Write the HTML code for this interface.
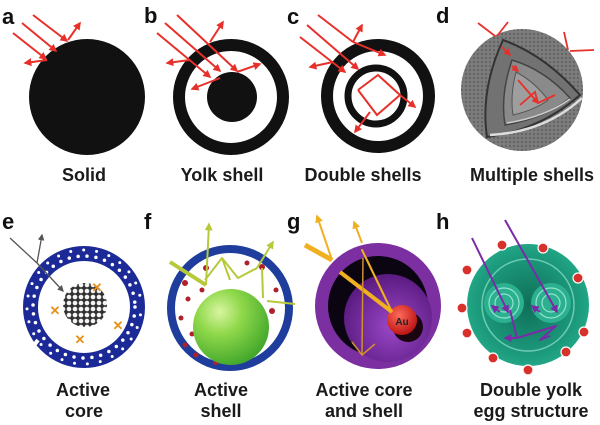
<!DOCTYPE html>
<html><head><meta charset="utf-8"><style>
html,body{margin:0;padding:0;background:#fff;}
svg{display:block;}
.lbl{font-family:"Liberation Sans",sans-serif;font-weight:bold;font-size:22px;fill:#111;}
.cap{font-family:"Liberation Sans",sans-serif;font-weight:bold;font-size:18px;fill:#1a1a1a;text-anchor:middle;}
</style></head><body>
<svg width="600" height="425" viewBox="0 0 600 425" xmlns="http://www.w3.org/2000/svg">
<defs>
<marker id="ar" viewBox="0 0 10 10" refX="8" refY="5" markerWidth="4" markerHeight="4" orient="auto"><path d="M0,0 L10,5 L0,10 z" fill="#e8302a"/></marker>
<marker id="ag" viewBox="0 0 10 10" refX="8" refY="5" markerWidth="5" markerHeight="5" orient="auto"><path d="M0,0 L10,5 L0,10 z" fill="#555"/></marker>
<marker id="ay" viewBox="0 0 10 10" refX="8" refY="5" markerWidth="4" markerHeight="4" orient="auto"><path d="M0,0 L10,5 L0,10 z" fill="#b7c93a"/></marker>
<marker id="ao" viewBox="0 0 10 10" refX="8" refY="5" markerWidth="4" markerHeight="4" orient="auto"><path d="M0,0 L10,5 L0,10 z" fill="#f0b020"/></marker>
<marker id="ap" viewBox="0 0 10 10" refX="8" refY="5" markerWidth="4" markerHeight="4" orient="auto"><path d="M0,0 L10,5 L0,10 z" fill="#7b2aa8"/></marker>
<pattern id="tex" width="4" height="4" patternUnits="userSpaceOnUse"><rect width="4" height="4" fill="#7c7c7c"/><circle cx="2" cy="2" r="1.1" fill="#626262"/></pattern>
<pattern id="cl" width="6" height="6" patternUnits="userSpaceOnUse"><rect width="6" height="6" fill="#333"/><circle cx="3" cy="3" r="2.3" fill="#f4f4f4"/></pattern>
<radialGradient id="gball" cx="0.35" cy="0.3" r="0.75"><stop offset="0" stop-color="#d8f5a0"/><stop offset="0.4" stop-color="#8fd84a"/><stop offset="1" stop-color="#3fa52a"/></radialGradient>
<radialGradient id="purp" cx="0.55" cy="0.6" r="0.6"><stop offset="0" stop-color="#9a48c8"/><stop offset="1" stop-color="#5a1a80"/></radialGradient>
<radialGradient id="au" cx="0.4" cy="0.35" r="0.7"><stop offset="0" stop-color="#ff6a5a"/><stop offset="1" stop-color="#b80f10"/></radialGradient>
<radialGradient id="teal" cx="0.5" cy="0.5" r="0.55"><stop offset="0" stop-color="#0f6f58"/><stop offset="0.75" stop-color="#1c9a7c"/><stop offset="1" stop-color="#25ad8b"/></radialGradient>
</defs>

<!-- labels -->
<text class="lbl" x="2" y="24">a</text>
<text class="lbl" x="144" y="23">b</text>
<text class="lbl" x="287" y="24">c</text>
<text class="lbl" x="436" y="23">d</text>
<text class="lbl" x="2" y="229">e</text>
<text class="lbl" x="144" y="229">f</text>
<text class="lbl" x="287" y="229">g</text>
<text class="lbl" x="436" y="229">h</text>

<!-- a -->
<circle cx="87" cy="97" r="58" fill="#111"/>
<g stroke="#e8302a" stroke-width="2" fill="none">
<line x1="13" y1="33" x2="46" y2="59" marker-end="url(#ar)"/>
<line x1="22" y1="23" x2="56" y2="51" marker-end="url(#ar)"/>
<line x1="33" y1="15" x2="67" y2="41" marker-end="url(#ar)"/>
<line x1="47" y1="60" x2="25" y2="63" marker-end="url(#ar)"/>
<line x1="68" y1="40" x2="80" y2="23" marker-end="url(#ar)"/>
</g>

<!-- b -->
<circle cx="231" cy="97" r="52" fill="none" stroke="#111" stroke-width="12"/>
<circle cx="232" cy="97" r="25" fill="#111"/>
<g stroke="#e8302a" stroke-width="2" fill="none">
<line x1="157" y1="33" x2="210" y2="77" marker-end="url(#ar)"/>
<line x1="165" y1="23" x2="220" y2="71" marker-end="url(#ar)"/>
<line x1="177" y1="15" x2="237" y2="71" marker-end="url(#ar)"/>
<line x1="190" y1="60" x2="167" y2="63" marker-end="url(#ar)"/>
<line x1="210" y1="42" x2="223" y2="22" marker-end="url(#ar)"/>
<line x1="237" y1="72" x2="260" y2="64" marker-end="url(#ar)"/>
<line x1="220" y1="78" x2="192" y2="89" marker-end="url(#ar)"/>
</g>

<!-- c -->
<circle cx="378" cy="96" r="51" fill="none" stroke="#111" stroke-width="12"/>
<circle cx="376" cy="96" r="28" fill="none" stroke="#111" stroke-width="7"/>
<g stroke="#e8302a" stroke-width="2" fill="none">
<line x1="300" y1="37" x2="345" y2="72" marker-end="url(#ar)"/>
<line x1="307" y1="25" x2="358" y2="69" marker-end="url(#ar)"/>
<line x1="318" y1="15" x2="353" y2="42"/>
<line x1="353" y1="42" x2="362" y2="25" marker-end="url(#ar)"/>
<line x1="333" y1="62" x2="310" y2="67" marker-end="url(#ar)"/>
<line x1="353" y1="42" x2="385" y2="55" marker-end="url(#ar)"/>
<polyline points="358,90 377,115 400,95 378,75 358,90"/>
<line x1="400" y1="95" x2="415" y2="107" marker-end="url(#ar)"/>
<line x1="370" y1="112" x2="355" y2="132" marker-end="url(#ar)"/>
</g>

<!-- d -->
<circle cx="522" cy="90" r="61" fill="url(#tex)"/>
<path d="M503,40 Q480,90 487,137 Q540,130 580,95 Q545,55 503,40 Z" fill="#727272" stroke="#333" stroke-width="2"/>
<path d="M512,60 Q500,95 505,125 Q545,118 570,98 Q545,70 512,60 Z" fill="#8a8a8a" stroke="#444" stroke-width="1.5"/>
<path d="M516,72 Q510,95 513,115 Q535,110 548,100 Q535,82 516,72 Z" fill="#9e9e9e" stroke="#555" stroke-width="1"/>
<path d="M490,135 Q545,132 582,98" fill="none" stroke="#ddd" stroke-width="2.5"/>
<path d="M507,123 Q545,117 570,99" fill="none" stroke="#ccc" stroke-width="1.5"/>
<g stroke="#e8302a" stroke-width="1.8" fill="none">
<line x1="478" y1="23" x2="495" y2="36"/><line x1="508" y1="22" x2="497" y2="36"/>
<line x1="564" y1="32" x2="568" y2="50"/><line x1="594" y1="50" x2="570" y2="51"/>
<line x1="502" y1="47" x2="510" y2="55" marker-end="url(#ar)"/>
<line x1="512" y1="66" x2="518" y2="71" marker-end="url(#ar)"/>
<line x1="518" y1="80" x2="538" y2="103" marker-end="url(#ar)"/>
<polyline points="520,105 535,92 538,103 555,95"/>
</g>

<!-- e -->
<circle cx="84" cy="307" r="53.5" fill="none" stroke="#1c2a98" stroke-width="15"/>
<circle cx="84" cy="307" r="51" fill="none" stroke="#fff" stroke-width="3.5" stroke-dasharray="0 9" stroke-linecap="round"/>
<circle cx="84" cy="307" r="57" fill="none" stroke="#fff" stroke-width="3" stroke-dasharray="0 13" stroke-dashoffset="5" stroke-linecap="round"/>
<path d="M120,252 L112,250" stroke="#fff" stroke-width="4"/>
<path d="M38,340 L32,348" stroke="#fff" stroke-width="4"/>
<circle cx="85" cy="305" r="22" fill="url(#cl)"/>
<g stroke="#555" stroke-width="1.3" fill="none">
<line x1="10" y1="238" x2="37" y2="263"/>
<line x1="37" y1="263" x2="63" y2="291" marker-end="url(#ag)"/>
<line x1="37" y1="263" x2="42" y2="235" marker-end="url(#ag)"/>
</g>
<g font-family="Liberation Sans,sans-serif" font-weight="bold" font-size="13" fill="#e8901a" text-anchor="middle">
<text x="97" y="292">✕</text><text x="55" y="315">✕</text><text x="118" y="330">✕</text><text x="80" y="344">✕</text>
</g>

<!-- f -->
<circle cx="230" cy="308" r="59" fill="none" stroke="#1f3d9c" stroke-width="8"/>
<g fill="#b0202a">
<circle cx="185" cy="283" r="3"/><circle cx="206" cy="268" r="3"/><circle cx="247" cy="263" r="2.5"/><circle cx="262" cy="267" r="3"/>
<circle cx="188" cy="299" r="2.5"/><circle cx="181" cy="318" r="2.5"/><circle cx="185" cy="345" r="2.5"/><circle cx="196" cy="355" r="2.5"/>
<circle cx="216" cy="362" r="3"/><circle cx="248" cy="353" r="3"/><circle cx="272" cy="311" r="3"/><circle cx="276" cy="290" r="2.5"/><circle cx="263" cy="340" r="2.5"/><circle cx="202" cy="290" r="2.5"/><circle cx="192" cy="334" r="2.5"/>
</g>
<circle cx="231" cy="327" r="38" fill="url(#gball)"/>
<g stroke="#b7c93a" stroke-width="2" fill="none" stroke-linejoin="round">
<line x1="170" y1="262" x2="206" y2="285" stroke-width="4"/>
<line x1="206" y1="285" x2="209" y2="224" marker-end="url(#ay)"/>
<polyline points="205,280 222,258 238,278 257,268 273,242" marker-end="url(#ay)"/>
<line x1="262" y1="268" x2="263" y2="298"/>
<line x1="267" y1="301" x2="295" y2="304"/>
<line x1="222" y1="258" x2="230" y2="280"/>
</g>

<!-- g -->
<circle cx="378" cy="306" r="63" fill="#7b2fa0"/>
<circle cx="378" cy="306" r="50" fill="#0a0510"/>
<circle cx="388" cy="318" r="44" fill="url(#purp)"/>
<circle cx="408" cy="327" r="15" fill="#1a0510"/>
<circle cx="402" cy="320" r="15" fill="url(#au)"/>
<text x="402" y="325" font-family="Liberation Sans,sans-serif" font-weight="bold" font-size="10" fill="#222" text-anchor="middle">Au</text>
<g stroke="#f0b020" fill="none" stroke-linejoin="round">
<line x1="305" y1="245" x2="332" y2="260" stroke-width="5"/>
<line x1="332" y1="260" x2="317" y2="216" stroke-width="2" marker-end="url(#ao)"/>
<line x1="362" y1="243" x2="354" y2="222" stroke-width="2" marker-end="url(#ao)"/>
<line x1="340" y1="272" x2="392" y2="312" stroke-width="4"/>
<polyline points="392,312 368,262 362,250 392,312" stroke-width="2"/>
<line x1="363" y1="258" x2="362" y2="355" stroke-width="1.5" stroke="#d09030"/>
<polyline points="352,342 362,355 375,344" stroke-width="1.5" stroke="#d09030"/>
</g>

<!-- h -->
<circle cx="528" cy="305" r="61" fill="url(#teal)"/>
<circle cx="528" cy="305" r="46" fill="none" stroke="#7fd8c0" stroke-width="1.5" opacity="0.8"/>
<circle cx="504" cy="303" r="20" fill="#2cb08f"/>
<circle cx="551" cy="303" r="20" fill="#2cb08f"/>
<g fill="none" stroke="#8fe6cf" stroke-width="1.2">
<circle cx="504" cy="303" r="15"/><circle cx="504" cy="303" r="9"/>
<circle cx="551" cy="303" r="15"/><circle cx="551" cy="303" r="9"/>
</g>
<g stroke="#7b2aa8" stroke-width="2" fill="none" stroke-linejoin="round">
<line x1="472" y1="238" x2="508" y2="312" marker-end="url(#ap)"/>
<line x1="505" y1="220" x2="557" y2="312" marker-end="url(#ap)"/>
<polyline points="510,310 517,338 556,326 540,340 550,336"/>
<line x1="517" y1="338" x2="505" y2="338" marker-end="url(#ap)"/>
<line x1="500" y1="312" x2="492" y2="306" marker-end="url(#ap)"/>
<line x1="540" y1="312" x2="532" y2="306" marker-end="url(#ap)"/>
</g>
<g fill="#d8302a" stroke="#fff" stroke-width="1.2">
<circle cx="502" cy="245" r="5"/><circle cx="543" cy="248" r="5"/><circle cx="578" cy="278" r="5"/>
<circle cx="467" cy="270" r="5"/><circle cx="462" cy="308" r="5"/><circle cx="467" cy="333" r="5"/>
<circle cx="584" cy="332" r="5"/><circle cx="566" cy="352" r="5"/><circle cx="493" cy="358" r="5"/><circle cx="528" cy="370" r="5"/>
</g>

<!-- captions -->
<text class="cap" x="84" y="181">Solid</text>
<text class="cap" x="222" y="181">Yolk shell</text>
<text class="cap" x="363" y="181">Double shells</text>
<text class="cap" x="532" y="181">Multiple shells</text>
<text class="cap" x="83" y="396">Active</text>
<text class="cap" x="84" y="417">core</text>
<text class="cap" x="221" y="396">Active</text>
<text class="cap" x="221" y="417">shell</text>
<text class="cap" x="364" y="396">Active core</text>
<text class="cap" x="364" y="417">and shell</text>
<text class="cap" x="531" y="396">Double yolk</text>
<text class="cap" x="531" y="417">egg structure</text>
</svg>
</body></html>
